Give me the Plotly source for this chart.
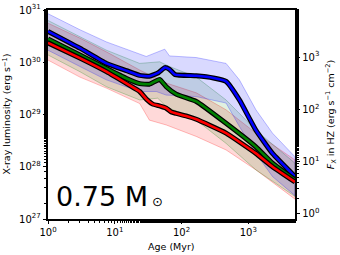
import plotly.graph_objects as go

# ---------------- data ----------------
blue_age = [1, 3, 7.5, 15, 23.6, 33, 45, 56, 66, 80, 166, 300, 464, 735, 1300, 2300, 5000]
blue_med = [3.9e30, 1.86e30, 9.5e29, 6.9e29, 5.6e29, 5.4e29, 6.3e29, 7.9e29, 7.3e29, 5.8e29, 5.5e29, 5.0e29, 4.3e29, 1.9e29, 5.0e28, 1.8e28, 6.5e27]
blue_up_age = [1, 3, 7.5, 29.6, 56, 66, 166, 464, 735, 1300, 2300, 5000]
blue_up = [8.5e30, 4.2e30, 2.45e30, 1.29e30, 1.78e30, 1.32e30, 1.23e30, 9.5e29, 4.6e29, 1.23e29, 4.4e28, 1.55e28]
blue_lo_age = [1, 3, 7.5, 23.6, 42, 59, 166, 464, 735, 1300, 2300, 5000]
blue_lo = [1.7e30, 8.3e29, 4.6e29, 2.75e29, 2.75e29, 2.35e29, 2.2e29, 1.66e29, 5.9e28, 1.8e28, 6.5e27, 2.8e27]

green_age = [1, 3, 7.5, 15, 23.6, 33, 47, 59, 83, 166, 464, 1300, 2300, 5000]
green_med = [2.8e30, 1.38e30, 7.6e29, 4.9e29, 3.9e29, 3.8e29, 4.7e29, 3.4e29, 2.45e29, 1.78e29, 6.8e28, 2.4e28, 1.17e28, 5.6e27]
green_up_age = [1, 3, 7.5, 23.6, 47, 66, 166, 464, 1300, 5000]
green_up = [6.3e30, 3.1e30, 1.7e30, 9.5e29, 1.02e30, 8.3e29, 5.2e29, 1.9e29, 5.0e28, 1.17e28]
green_lo_age = [1, 3, 7.5, 23.6, 44, 59, 166, 464, 1300, 5000]
green_lo = [1.38e30, 6.6e29, 3.4e29, 1.9e29, 2.05e29, 1.41e29, 7.8e28, 2.8e28, 8.7e27, 2.7e27]

red_age = [1, 3, 7.5, 16.7, 23.6, 30, 37, 48, 59, 70, 83, 120, 166, 464, 1300, 2300, 5000]
red_med = [2.35e30, 1.2e30, 6.6e29, 3.6e29, 2.75e29, 1.95e29, 1.58e29, 1.45e29, 1.32e29, 1.12e29, 1.05e29, 9.3e28, 8.1e28, 4.4e28, 1.8e28, 1.0e28, 5.1e27]
red_up_age = [1, 3, 7.5, 23.6, 59, 166, 464, 1300, 5000]
red_up = [5.6e30, 2.9e30, 1.58e30, 7.1e29, 4.0e29, 2.6e29, 1.23e29, 4.4e28, 1.35e28]
red_lo_age = [1, 3, 7.5, 23.6, 33, 59, 166, 464, 1300, 5000]
red_lo = [1.1e30, 5.2e29, 3.2e29, 1.62e29, 7.8e28, 6.3e28, 3.8e28, 2.1e28, 8.7e27, 2.4e27]

x_ticks = [1, 10, 100, 1000]
x_ticktext = ["10<sup>0</sup>", "10<sup>1</sup>", "10<sup>2</sup>", "10<sup>3</sup>"]
y_ticks = [1e27, 1e28, 1e29, 1e30, 1e31]
y_ticktext = ["10<sup>27</sup>", "10<sup>28</sup>", "10<sup>29</sup>", "10<sup>30</sup>", "10<sup>31</sup>"]
f_ticks = [1, 10, 100, 1000]
f_ticktext = ["10<sup>0</sup>", "10<sup>1</sup>", "10<sup>2</sup>", "10<sup>3</sup>"]
label_main = "0.75 M"
label_sun = "⊙"
x_title = "Age (Myr)"
y_title = "X-ray luminosity (erg s<sup>−1</sup>)"
y2_title = "<i>F</i><sub>X</sub> in HZ (erg s<sup>−1</sup> cm<sup>−2</sup>)"

# ---------------- figure ----------------
FONT = "DejaVu Sans"
fig = go.Figure()

bands = [
    (red_up_age, red_up, red_lo_age, red_lo, "255,0,0", 0.15),
    (green_up_age, green_up, green_lo_age, green_lo, "0,128,0", 0.12),
    (blue_up_age, blue_up, blue_lo_age, blue_lo, "0,0,255", 0.15),
]
for ua, u, la, l, c, a in bands:
    xs = list(ua) + list(la)[::-1]
    ys = list(u) + list(l)[::-1]
    fig.add_trace(go.Scatter(x=xs, y=ys, fill="toself", fillcolor=f"rgba({c},{a})",
                             line=dict(color=f"rgba({c},0.25)", width=1),
                             mode="lines", hoverinfo="skip", showlegend=False))

for age, med, col in [(blue_age, blue_med, "#0000ff"), (green_age, green_med, "#008000"),
                      (red_age, red_med, "#ff0000")]:
    fig.add_trace(go.Scatter(x=age, y=med, mode="lines", line=dict(color="black", width=5, shape="spline", smoothing=0.4),
                             showlegend=False, hoverinfo="skip"))
    fig.add_trace(go.Scatter(x=age, y=med, mode="lines", line=dict(color=col, width=2.6, shape="spline", smoothing=0.4),
                             showlegend=False, hoverinfo="skip"))

fig.add_trace(go.Scatter(x=[1], y=[1], yaxis="y2", mode="markers",
                         marker=dict(opacity=0), showlegend=False, hoverinfo="skip"))

LOG_OFF = 27.1
axis_common = dict(type="log", ticks="outside", ticklen=3.5, tickwidth=1, tickcolor="black",
                   showgrid=False, zeroline=False, showline=True, linecolor="black",
                   linewidth=1.5, automargin=False, tickfont=dict(size=10),
                   minor=dict(ticks="outside", ticklen=2, tickcolor="black", showgrid=False))
fig.update_layout(
    width=340, height=255,
    margin=dict(l=48, r=45, t=10, b=36),
    paper_bgcolor="white", plot_bgcolor="white",
    font=dict(family=FONT, size=10, color="black"),
    xaxis=dict(axis_common, range=[0, 3.699], tickvals=x_ticks, ticktext=x_ticktext, mirror=True),
    yaxis=dict(axis_common, range=[27, 31], tickvals=y_ticks, ticktext=y_ticktext),
    yaxis2=dict(axis_common, range=[27 - LOG_OFF, 31 - LOG_OFF], overlaying="y", side="right",
                tickvals=f_ticks, ticktext=f_ticktext),
    annotations=[
        dict(text=label_main, xref="paper", yref="paper", x=0.026, y=0.052,
             xanchor="left", yanchor="bottom", showarrow=False, yshift=-6,
             font=dict(size=27, family=FONT, color="black")),
        dict(text=label_sun, xref="paper", yref="paper", x=0.412, y=0.036,
             xanchor="left", yanchor="bottom", showarrow=False,
             font=dict(size=13, family=FONT, color="black")),
        dict(text=x_title, xref="paper", yref="paper", x=0.5, y=-0.095,
             xanchor="center", yanchor="top", showarrow=False, font=dict(size=9.5)),
        dict(text=y_title, xref="paper", yref="paper", x=-0.17, y=0.5, textangle=-90,
             xanchor="center", yanchor="middle", showarrow=False, font=dict(size=9.5)),
        dict(text=y2_title, xref="paper", yref="paper", x=1.145, y=0.5, textangle=-90,
             xanchor="center", yanchor="middle", showarrow=False, font=dict(size=9.5)),
    ],
)

fig.write_html("out.html", config={"displayModeBar": False},
               post_script="document.body.style.margin='0';")
